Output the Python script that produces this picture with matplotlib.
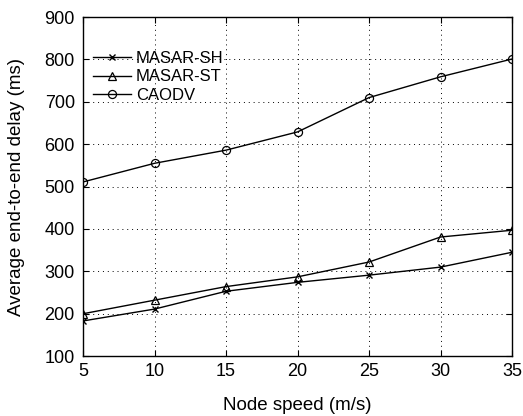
import matplotlib
matplotlib.use('Agg')
import matplotlib.pyplot as plt

plt.rcParams['font.family'] = ['Liberation Sans', 'DejaVu Sans']

speed = [5, 10, 15, 20, 25, 30, 35]
masar_sh = [183, 211, 253, 274, 291, 310, 345]
masar_st = [200, 232, 264, 287, 322, 381, 397]
caodv = [511, 555, 586, 629, 710, 759, 801]

fig = plt.figure(figsize=(5.23, 4.16), dpi=100)
ax = fig.add_axes([0.159, 0.144, 0.820, 0.815])

ax.plot(speed, masar_sh, color='black', lw=1, marker='x', ms=4, mew=1, label='MASAR-SH')
ax.plot(speed, masar_st, color='black', lw=1, marker='^', ms=6, mfc='none', mew=0.9, label='MASAR-ST')
ax.plot(speed, caodv, color='black', lw=1, marker='o', ms=5.8, mfc='none', mew=0.9, label='CAODV')

ax.set_xlim(5, 35)
ax.set_ylim(100, 900)
ax.set_xticks(speed)
ax.set_yticks(range(100, 1000, 100))
ax.tick_params(direction='in', labelsize=13, length=4, top=True, right=True)
ax.tick_params(axis='x', pad=5)
ax.tick_params(axis='y', pad=6)
ax.grid(True, color='black', linestyle=(0, (1, 4)), linewidth=0.7)
for s in ax.spines.values():
    s.set_linewidth(1)

ax.set_xlabel('Node speed (m/s)', fontsize=13.5, labelpad=12)
ax.set_ylabel('Average end-to-end delay (ms)', fontsize=13.5, labelpad=14)
ax.legend(loc='upper left', bbox_to_anchor=(-0.005, 0.935), frameon=False, fontsize=12,
          handlelength=2.3, handletextpad=0.3, labelspacing=0.22, borderaxespad=0.3)

fig.savefig('out.png', dpi=100)
